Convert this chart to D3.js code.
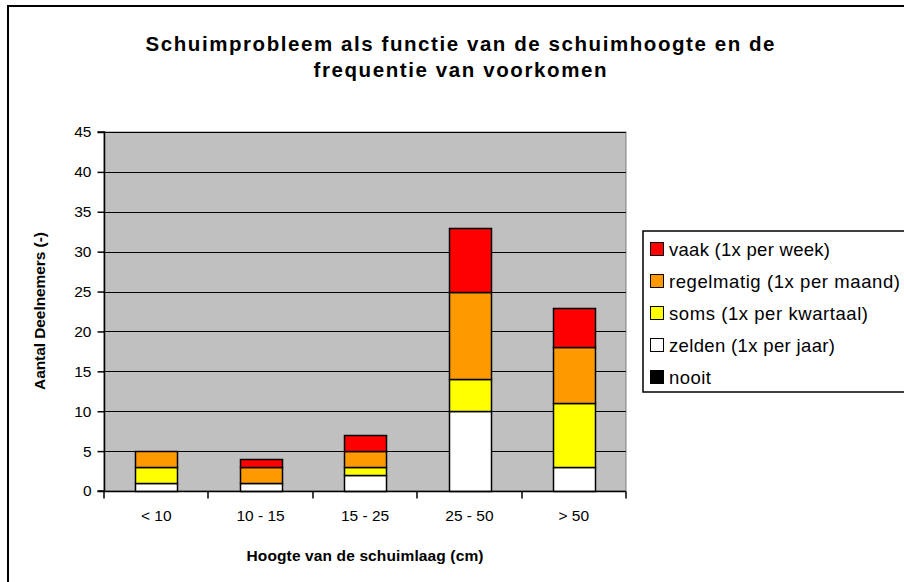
<!DOCTYPE html>
<html><head><meta charset="utf-8">
<script src="https://cdn.jsdelivr.net/npm/d3@7"></script>
<style>body{margin:0;background:#fff;} svg{display:block;font-family:"Liberation Sans",Arial,sans-serif;}</style>
</head><body><div id="chart"></div>
<script>
const categories = ["< 10", "10 - 15", "15 - 25", "25 - 50", "> 50"];
const seriesNames = ["nooit", "zelden (1x per jaar)", "soms (1x per kwartaal)", "regelmatig (1x per maand)", "vaak (1x per week)"];
const nooit      = [0, 0, 0, 0, 0];
const zelden     = [1, 1, 2, 10, 3];
const soms       = [2, 0, 1, 4, 8];
const regelmatig = [2, 2, 2, 11, 7];
const vaak       = [0, 1, 2, 8, 5];
const seriesColors = ["#000000", "#FFFFFF", "#FFFF00", "#FF9900", "#FF0000"];
const yTicks = [0, 5, 10, 15, 20, 25, 30, 35, 40, 45];
const titleLines = ["Schuimprobleem als functie van de schuimhoogte en de", "frequentie van voorkomen"];
const xTitle = "Hoogte van de schuimlaag (cm)";
const yTitle = "Aantal Deelnemers (-)";

const W = 904, H = 582;
const plot = {l: 104, r: 626, t: 132, b: 491};

const svg = d3.select("#chart").append("svg").attr("width", W).attr("height", H);
svg.append("rect").attr("x", 8).attr("y", 6).attr("width", 1000).attr("height", 1000)
  .attr("fill", "#fff").attr("stroke", "#000").attr("stroke-width", 2);

const x = d3.scaleBand().domain(categories).range([plot.l, plot.r]).paddingInner(0.6).paddingOuter(0.3);
const xOuter = d3.scaleBand().domain(categories).range([plot.l, plot.r]);
const y = d3.scaleLinear().domain([0, 45]).range([plot.b, plot.t]);

svg.append("rect").attr("x", plot.l).attr("y", plot.t).attr("width", plot.r - plot.l).attr("height", plot.b - plot.t)
  .attr("fill", "#C0C0C0").attr("stroke", "#808080").attr("stroke-width", 1);

// gridlines
svg.append("g").selectAll("line").data(yTicks.filter(d => d > 0)).join("line")
  .attr("x1", plot.l).attr("x2", plot.r)
  .attr("y1", d => Math.round(y(d)) + 0.5).attr("y2", d => Math.round(y(d)) + 0.5)
  .attr("stroke", "#000").attr("stroke-width", 1);

// stacked data
const rows = categories.map((c, i) => ({cat: c, s0: nooit[i], s1: zelden[i], s2: soms[i], s3: regelmatig[i], s4: vaak[i]}));
const stack = d3.stack().keys(["s0", "s1", "s2", "s3", "s4"]);
const stacked = stack(rows);
svg.append("g").selectAll("g").data(stacked).join("g")
  .attr("fill", (d, i) => seriesColors[i])
  .selectAll("rect").data(d => d.filter(p => p[1] - p[0] > 0)).join("rect")
  .attr("x", d => Math.round(x(d.data.cat)) + 0.5)
  .attr("width", Math.round(x.bandwidth()))
  .attr("y", d => Math.round(y(d[1])) + 0.5)
  .attr("height", d => Math.round(y(d[0])) - Math.round(y(d[1])))
  .attr("stroke", "#000").attr("stroke-width", 1.5);

// y axis
const yAxis = d3.axisLeft(y).tickValues(yTicks).tickSize(7).tickPadding(6);
const gy = svg.append("g").attr("transform", `translate(${plot.l + 0.5},0)`).call(yAxis);
gy.select(".domain").attr("stroke", "#000").attr("stroke-width", 1.5).attr("d", `M-7,${plot.b}H0V${plot.t}H-7`);
gy.selectAll(".tick line").attr("stroke", "#000").attr("stroke-width", 1.5);
gy.selectAll(".tick text").attr("font-size", 15.5).attr("font-family", "Liberation Sans, Arial, sans-serif").attr("fill", "#000");

// x axis
const xAxis = d3.axisBottom(xOuter).tickSize(0).tickPadding(18);
const gx = svg.append("g").attr("transform", `translate(0,${plot.b + 0.5})`).call(xAxis);
gx.select(".domain").attr("stroke", "#000").attr("stroke-width", 1.5).attr("d", `M${plot.l},0H${plot.r}`);
gx.selectAll(".tick text").attr("font-size", 15.5).attr("font-family", "Liberation Sans, Arial, sans-serif").attr("fill", "#000");
const bounds = categories.map(c => xOuter(c)).concat([plot.r]);
gx.append("g").selectAll("line").data(bounds).join("line")
  .attr("x1", d => Math.round(d)).attr("x2", d => Math.round(d))
  .attr("y1", 0).attr("y2", 7).attr("stroke", "#000").attr("stroke-width", 1.5);

// titles
const titleWidths = [629, 293];
svg.append("g").selectAll("text").data(titleLines).join("text")
  .attr("x", 460).attr("y", (d, i) => 51 + i * 26)
  .attr("text-anchor", "middle").attr("font-weight", "bold").attr("font-size", 20.5)
  .attr("textLength", (d, i) => titleWidths[i]).attr("lengthAdjust", "spacing")
  .text(d => d);

svg.append("text").attr("x", 365).attr("y", 561).attr("text-anchor", "middle")
  .attr("font-weight", "bold").attr("font-size", 15.5).attr("textLength", 237).attr("lengthAdjust", "spacing").text(xTitle);

svg.append("text").attr("transform", "translate(45,311) rotate(-90)").attr("text-anchor", "middle")
  .attr("font-weight", "bold").attr("font-size", 15.5).attr("textLength", 158).attr("lengthAdjust", "spacing").text(yTitle);

// legend
const lg = svg.append("g");
lg.append("rect").attr("x", 643).attr("y", 231).attr("width", 400).attr("height", 161)
  .attr("fill", "#fff").attr("stroke", "#000").attr("stroke-width", 1.5);
const legendOrder = [4, 3, 2, 1, 0];
const legendWidths = {4: 161, 3: 231, 2: 199, 1: 166, 0: 42};
const items = lg.selectAll("g.item").data(legendOrder).join("g").attr("class", "item")
  .attr("transform", (d, i) => `translate(650,${249 + i * 32})`);
items.append("rect").attr("x", 0.5).attr("y", -6.5).attr("width", 13).attr("height", 13)
  .attr("fill", d => seriesColors[d]).attr("stroke", "#000").attr("stroke-width", 1);
items.append("text").attr("x", 19).attr("y", 6.5).attr("font-size", 18.5)
  .attr("textLength", d => legendWidths[d]).attr("lengthAdjust", "spacing")
  .text(d => seriesNames[d]);
</script></body></html>
